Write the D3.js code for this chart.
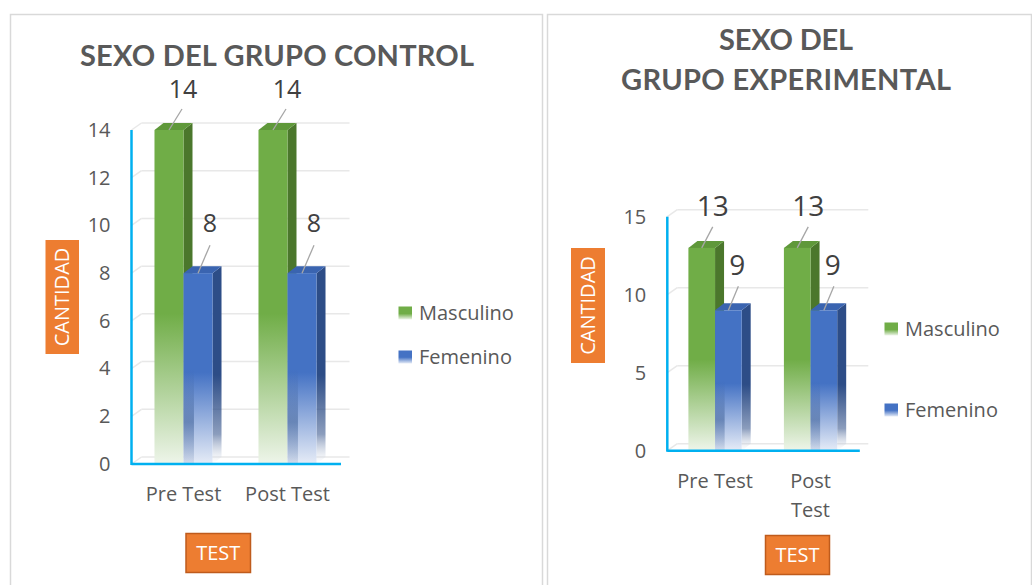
<!DOCTYPE html>
<html>
<head>
<meta charset="utf-8">
<script src="https://cdnjs.cloudflare.com/ajax/libs/d3/7.8.5/d3.min.js"></script>
<style>
  body { margin: 0; background: #fff; }
  svg { display: block; }
  text { font-family: "Open Sans", sans-serif; }
</style>
</head>
<body>
<svg id="svg" width="1032" height="585"></svg>
<script>
var categories = ['Pre Test', 'Post Test'];
var seriesNames = ['Masculino', 'Femenino'];

var controlMasculino = [14, 14];
var controlFemenino = [8, 8];
var expMasculino = [13, 13];
var expFemenino = [9, 9];

var controlTicks = [0, 2, 4, 6, 8, 10, 12, 14];
var expTicks = [0, 5, 10, 15];

var titleControl = ['SEXO DEL GRUPO CONTROL'];
var titleExp = ['SEXO DEL', 'GRUPO EXPERIMENTAL'];
var yTitle = 'CANTIDAD';
var xTitle = 'TEST';

// bar colours: front, top, side
var colors = [
  { front: '#70ad47', light: '#eef5ea', top: '#5f983a', side: '#4b772c' },
  { front: '#4472c4', light: '#e6ecf7', top: '#3a64b0', side: '#2d4d87' }
];

var svg = d3.select('#svg');
var defs = svg.append('defs');

colors.forEach(function (c, i) {
  var g = defs.append('linearGradient').attr('id', 'front' + i)
    .attr('x1', 0).attr('y1', 0).attr('x2', 0).attr('y2', 1);
  g.append('stop').attr('offset', 0).attr('stop-color', c.front);
  g.append('stop').attr('offset', i ? 0.52 : 0.55).attr('stop-color', c.front);
  g.append('stop').attr('offset', 1).attr('stop-color', c.light);

  var s = defs.append('linearGradient').attr('id', 'side' + i)
    .attr('x1', 0).attr('y1', 0).attr('x2', 0).attr('y2', 1);
  s.append('stop').attr('offset', 0).attr('stop-color', c.side);
  s.append('stop').attr('offset', 0.55).attr('stop-color', c.side);
  s.append('stop').attr('offset', 0.85).attr('stop-color', c.side).attr('stop-opacity', 0.55);
  s.append('stop').attr('offset', 1).attr('stop-color', '#ffffff').attr('stop-opacity', 0.2);
});

// darker strip on the left of the blue face
var sh = defs.append('linearGradient').attr('id', 'shade')
  .attr('x1', 0).attr('y1', 0).attr('x2', 0).attr('y2', 1);
sh.append('stop').attr('offset', 0.5).attr('stop-color', '#34578f').attr('stop-opacity', 0);
sh.append('stop').attr('offset', 0.78).attr('stop-color', '#34578f').attr('stop-opacity', 0.5);
sh.append('stop').attr('offset', 1).attr('stop-color', '#34578f').attr('stop-opacity', 0.1);

// panel frames
svg.append('rect').attr('x', 10.5).attr('y', 14.5).attr('width', 532).attr('height', 600)
  .attr('fill', '#fff').attr('stroke', '#d9d9d9').attr('stroke-width', 1.5);
svg.append('rect').attr('x', 547.5).attr('y', 14.5).attr('width', 484).attr('height', 600)
  .attr('fill', '#fff').attr('stroke', '#d9d9d9').attr('stroke-width', 1.5);

function drawChart(cfg) {
  var g = svg.append('g');
  var dx = 9, dy = -7, wallDx = 10;

  var y = d3.scaleLinear().domain([0, cfg.yMax]).range(cfg.yRange);
  var x0 = d3.scaleBand().domain(categories).range(cfg.xRange)
    .paddingInner(0.442).paddingOuter(0.221);
  var x1 = d3.scaleBand().domain(seriesNames).range([0, x0.bandwidth()]);

  // title
  cfg.title.forEach(function (t, i) {
    g.append('text').attr('x', cfg.titleX).attr('y', cfg.titleY[i])
      .attr('text-anchor', 'middle')
      .attr('textLength', cfg.titleLen[i]).attr('lengthAdjust', 'spacing')
      .style('font-family', 'Lato, sans-serif').style('font-weight', 700)
      .style('font-size', '29px').attr('fill', '#595959').text(t);
  });

  // back wall gridlines + slanted floor connectors
  var x0L = cfg.xRange[0], x0R = cfg.xRange[1];
  var grid = g.append('g');
  grid.selectAll('line.h').data(cfg.ticks).enter().append('line')
    .attr('x1', x0L + wallDx).attr('x2', x0R + wallDx)
    .attr('y1', function (d) { return y(d) + dy; })
    .attr('y2', function (d) { return y(d) + dy; })
    .attr('stroke', '#e8e8e8').attr('stroke-width', 1.5);
  grid.selectAll('line.s').data(cfg.ticks).enter().append('line')
    .attr('x1', x0L).attr('x2', x0L + wallDx)
    .attr('y1', function (d) { return y(d); })
    .attr('y2', function (d) { return y(d) + dy; })
    .attr('stroke', '#e8e8e8').attr('stroke-width', 1.5);

  // y axis labels
  var ya = g.append('g').attr('transform', 'translate(' + x0L + ',0)')
    .call(d3.axisLeft(y).tickValues(cfg.ticks).tickSize(0).tickPadding(21));
  ya.select('.domain').remove();
  ya.selectAll('text').style('font-size', '20px').attr('fill', '#595959')
    .style('font-family', '"Open Sans", sans-serif');

  // x axis labels
  var xa = g.append('g').attr('transform', 'translate(0,' + cfg.yRange[0] + ')')
    .call(d3.axisBottom(x0).tickSize(0).tickPadding(23));
  xa.select('.domain').remove();
  xa.selectAll('text').style('font-size', '20px').attr('fill', '#595959')
    .style('font-family', '"Open Sans", sans-serif')
    .each(function (d) {
      var t = d3.select(this);
      if (cfg.wrap && this.getComputedTextLength() > cfg.wrapWidth) {
        var words = d.split(' ');
        t.text(null);
        words.forEach(function (w, i) {
          t.append('tspan').attr('x', 0).attr('dy', i ? '29px' : '0.71em').text(w);
        });
        t.attr('dy', null);
      }
    });

  // bars
  var groups = g.selectAll('g.cat').data(categories).enter().append('g')
    .attr('transform', function (c) { return 'translate(' + x0(c) + ',0)'; });

  groups.each(function (c, ci) {
    var cg = d3.select(this);
    seriesNames.forEach(function (s, si) {
      var v = cfg.values[si][ci];
      var bx = x1(s), bw = x1.bandwidth();
      var yt = y(v), yb = y(0);
      var col = colors[si];
      // side
      cg.append('path')
        .attr('d', 'M' + (bx + bw) + ',' + yt + 'L' + (bx + bw + dx) + ',' + (yt + dy) +
          'L' + (bx + bw + dx) + ',' + (yb + dy) + 'L' + (bx + bw) + ',' + yb + 'Z')
        .attr('fill', 'url(#side' + si + ')');
      // top
      cg.append('path')
        .attr('d', 'M' + bx + ',' + yt + 'L' + (bx + dx) + ',' + (yt + dy) +
          'L' + (bx + bw + dx) + ',' + (yt + dy) + 'L' + (bx + bw) + ',' + yt + 'Z')
        .attr('fill', col.top);
      // front
      cg.append('rect').attr('x', bx).attr('y', yt).attr('width', bw).attr('height', yb - yt)
        .attr('fill', 'url(#front' + si + ')');
      if (si === 1) {
        cg.append('rect').attr('x', bx).attr('y', yt).attr('width', bw * 0.36).attr('height', yb - yt)
          .attr('fill', 'url(#shade)');
      }
    });
  });

  // data labels with leader lines
  groups.each(function (c, ci) {
    var cg = d3.select(this);
    seriesNames.forEach(function (s, si) {
      var v = cfg.values[si][ci];
      var cx = x1(s) + x1.bandwidth() / 2;
      var o = cfg.labelOff[si];
      cg.append('line')
        .attr('x1', cx).attr('y1', y(v))
        .attr('x2', cx + o[2]).attr('y2', y(v) + o[3])
        .attr('stroke', '#a6a6a6').attr('stroke-width', 1.3);
      cg.append('text')
        .attr('x', cx + o[0]).attr('y', y(v) + o[1] + cfg.labelSize * 0.357)
        .attr('text-anchor', 'middle')
        .style('font-size', cfg.labelSize + 'px').attr('fill', '#404040')
        .text(v);
    });
  });

  // cyan axis lines
  g.append('line').attr('x1', x0L).attr('x2', x0L)
    .attr('y1', y(cfg.yMax)).attr('y2', cfg.yRange[0] + 1)
    .attr('stroke', '#00b0f0').attr('stroke-width', 2.5);
  g.append('line').attr('x1', x0L).attr('x2', x0R + 1.5)
    .attr('y1', cfg.yRange[0]).attr('y2', cfg.yRange[0])
    .attr('stroke', '#00b0f0').attr('stroke-width', 2.5);

  // legend
  seriesNames.forEach(function (s, si) {
    var ly = cfg.legendY[si];
    g.append('rect').attr('x', cfg.legendX).attr('y', ly - 6.5)
      .attr('width', 13.5).attr('height', 13).attr('fill', 'url(#front' + si + ')');
    g.append('text').attr('x', cfg.legendX + 20.5).attr('y', ly + 7)
      .style('font-size', '20px').attr('fill', '#595959').text(s);
  });

  // axis title boxes
  var yb = cfg.yBox;
  g.append('rect').attr('x', yb[0]).attr('y', yb[1]).attr('width', yb[2]).attr('height', yb[3])
    .attr('fill', '#ed7d31');
  g.append('text')
    .attr('transform', 'translate(' + (yb[0] + yb[2] / 2 + 7) + ',' + (yb[1] + yb[3] / 2) + ') rotate(-90)')
    .attr('text-anchor', 'middle').style('font-size', '20px').attr('fill', '#fff').text(yTitle);

  var xb = cfg.xBox;
  g.append('rect').attr('x', xb[0]).attr('y', xb[1]).attr('width', xb[2]).attr('height', xb[3])
    .attr('fill', '#ed7d31').attr('stroke', '#bf5b1c').attr('stroke-width', 1.5);
  g.append('text').attr('x', xb[0] + xb[2] / 2).attr('y', xb[1] + xb[3] / 2 + 7)
    .attr('text-anchor', 'middle').style('font-size', '20px').attr('fill', '#fff').text(xTitle);
}

drawChart({
  title: titleControl, titleX: 277, titleY: [66], titleLen: [394],
  values: [controlMasculino, controlFemenino],
  ticks: controlTicks, yMax: 14, yRange: [464, 130], xRange: [131.5, 339.5],
  labelSize: 25, labelOff: [[14, -41, 13, -21], [12, -50, 12, -28]],
  legendX: 398.5, legendY: [313, 357],
  yBox: [45.5, 240, 33.5, 114], xBox: [186, 533.5, 64.5, 39],
  wrap: false
});

drawChart({
  title: titleExp, titleX: 786, titleY: [50, 89.5], titleLen: [134, 330],
  values: [expMasculino, expFemenino],
  ticks: expTicks, yMax: 15, yRange: [450.7, 216.7], xRange: [667.3, 858.3],
  labelSize: 28, labelOff: [[11, -42, 11, -21], [9, -45, 10, -24]],
  legendX: 884.5, legendY: [329, 410],
  yBox: [571, 248, 34, 115], xBox: [765.5, 535.5, 64, 39],
  wrap: true, wrapWidth: 80
});
</script>
</body>
</html>
